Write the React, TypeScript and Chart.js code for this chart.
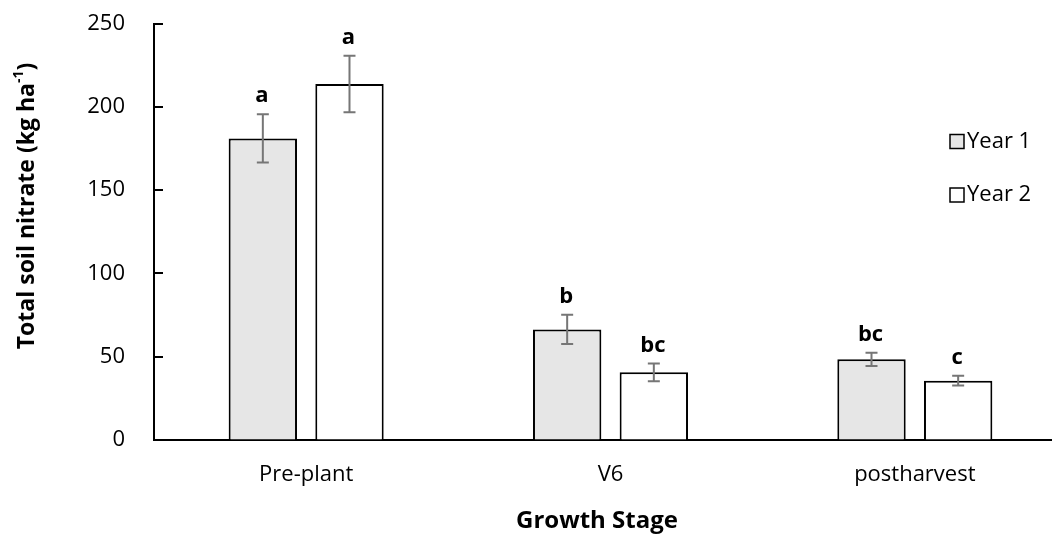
import React, { useEffect, useRef } from "react";
import { Chart, registerables } from "chart.js";

Chart.register(...registerables);

const categories = ["Pre-plant", "V6", "postharvest"];
const seriesNames = ["Year 1", "Year 2"];
const year1 = [181, 66.4, 48.4];
const year2 = [213.7, 40.6, 35.6];
const year1Err = [14.5, 8.8, 4.0];
const year2Err = [17.0, 5.3, 2.9];
const year1Letters = ["a", "b", "bc"];
const year2Letters = ["a", "bc", "c"];
const yMin = 0;
const yMax = 250;
const yStep = 50;
const xTitle = "Growth Stage";
const yTitleMain = "Total soil nitrate (kg ha";
const yTitleSup = "-1";
const yTitleEnd = ")";

const FONT = '"Open Sans", sans-serif';
const W = 1100;
const H = 535;
const fills = ["#e6e6e6", "#ffffff"];

const overlay = {
  id: "overlay",
  afterDatasetsDraw(chart: any) {
    const ctx = chart.ctx;
    const ys = chart.scales.y;
    const errs = [year1Err, year2Err];
    const letters = [year1Letters, year2Letters];
    chart.data.datasets.forEach((ds: any, di: number) => {
      const meta = chart.getDatasetMeta(di);
      meta.data.forEach((bar: any, i: number) => {
        const v = ds.data[i];
        const e = errs[di][i];
        const x = bar.x;
        const yt = ys.getPixelForValue(v + e);
        const yb = ys.getPixelForValue(v - e);
        ctx.save();
        ctx.strokeStyle = "#767676";
        ctx.lineWidth = 2;
        ctx.beginPath();
        ctx.moveTo(x, yt);
        ctx.lineTo(x, yb);
        ctx.moveTo(x - 6, yt);
        ctx.lineTo(x + 6, yt);
        ctx.moveTo(x - 6, yb);
        ctx.lineTo(x + 6, yb);
        ctx.stroke();
        ctx.fillStyle = "#000";
        ctx.font = `bold 22px ${FONT}`;
        ctx.textAlign = "center";
        ctx.textBaseline = "alphabetic";
        ctx.fillText(letters[di][i], x - 1, yt - 12);
        ctx.restore();
      });
    });
  },
  afterDraw(chart: any) {
    const ctx = chart.ctx;
    const ys = chart.scales.y;
    const area = chart.chartArea;
    ctx.save();
    // inside ticks on y axis
    ctx.strokeStyle = "#000";
    ctx.lineWidth = 2;
    ys.ticks.forEach((t: any) => {
      const py = Math.round(ys.getPixelForValue(t.value));
      ctx.beginPath();
      ctx.moveTo(area.left, py);
      ctx.lineTo(area.left + 9, py);
      ctx.stroke();
    });
    // legend
    const legendY = [141.5, 195];
    chart.data.datasets.forEach((ds: any, di: number) => {
      const cy = legendY[di];
      ctx.fillStyle = ds.backgroundColor;
      ctx.fillRect(950, cy - 7, 14, 14);
      ctx.strokeStyle = "#000";
      ctx.lineWidth = 1.5;
      ctx.strokeRect(950, cy - 7, 14, 14);
      ctx.fillStyle = "#000";
      ctx.font = `22px ${FONT}`;
      ctx.textAlign = "left";
      ctx.textBaseline = "middle";
      ctx.fillText(ds.label, 967, cy);
    });
    // x title
    ctx.font = `bold 24px ${FONT}`;
    ctx.textAlign = "center";
    ctx.textBaseline = "alphabetic";
    ctx.fillText(xTitle, 597, 528);
    // y title with superscript
    ctx.translate(27, 206);
    ctx.rotate(-Math.PI / 2);
    const mainFont = `bold 23px ${FONT}`;
    const supFont = `bold 14px ${FONT}`;
    ctx.font = mainFont;
    const w1 = ctx.measureText(yTitleMain).width;
    const w3 = ctx.measureText(yTitleEnd).width;
    ctx.font = supFont;
    const w2 = ctx.measureText(yTitleSup).width;
    const total = w1 + w2 + w3;
    let x0 = -total / 2;
    ctx.fillStyle = "#000";
    ctx.textAlign = "left";
    ctx.textBaseline = "middle";
    ctx.font = mainFont;
    ctx.fillText(yTitleMain, x0, 0);
    x0 += w1;
    ctx.font = supFont;
    ctx.fillText(yTitleSup, x0, -8);
    x0 += w2;
    ctx.font = mainFont;
    ctx.fillText(yTitleEnd, x0, 0);
    ctx.restore();
  },
};

export default function App() {
  const ref = useRef<HTMLCanvasElement | null>(null);
  useEffect(() => {
    if (!ref.current) return;
    const chart = new Chart(ref.current, {
      type: "bar",
      data: {
        labels: categories,
        datasets: [year1, year2].map((d, i) => ({
          label: seriesNames[i],
          data: d,
          backgroundColor: fills[i],
          borderColor: "#000",
          borderWidth: 2,
          barPercentage: 0.789,
          categoryPercentage: 0.5695,
        })),
      },
      options: {
        responsive: false,
        animation: false,
        layout: { padding: { left: 0, top: 23.5, right: W - 1067, bottom: 0 } },
        plugins: { legend: { display: false }, tooltip: { enabled: false } },
        scales: {
          x: {
            grid: { display: true, drawOnChartArea: false, drawTicks: false },
            border: { display: true, color: "#000", width: 2 },
            ticks: { font: { family: FONT, size: 22 }, color: "#000", padding: 22 },
            afterFit: (s: any) => {
              s.height = H - 440;
              s.paddingLeft = 0;
              s.paddingRight = 0;
            },
          },
          y: {
            min: yMin,
            max: yMax,
            ticks: { stepSize: yStep, padding: 29, font: { family: FONT, size: 22 }, color: "#000" },
            grid: { display: true, drawOnChartArea: false, drawTicks: false },
            border: { display: true, color: "#000", width: 2 },
            afterFit: (s: any) => {
              s.width = 154;
              s.paddingTop = 0;
              s.paddingBottom = 0;
            },
          },
        },
      } as any,
      plugins: [overlay],
    });
    return () => chart.destroy();
  }, []);
  return (
    <div style={{ position: "fixed", left: 0, top: 0, width: 1052, height: H, overflow: "hidden", background: "#fff" }}>
      <canvas ref={ref} width={W} height={H} style={{ display: "block", width: W, height: H }} />
    </div>
  );
}
